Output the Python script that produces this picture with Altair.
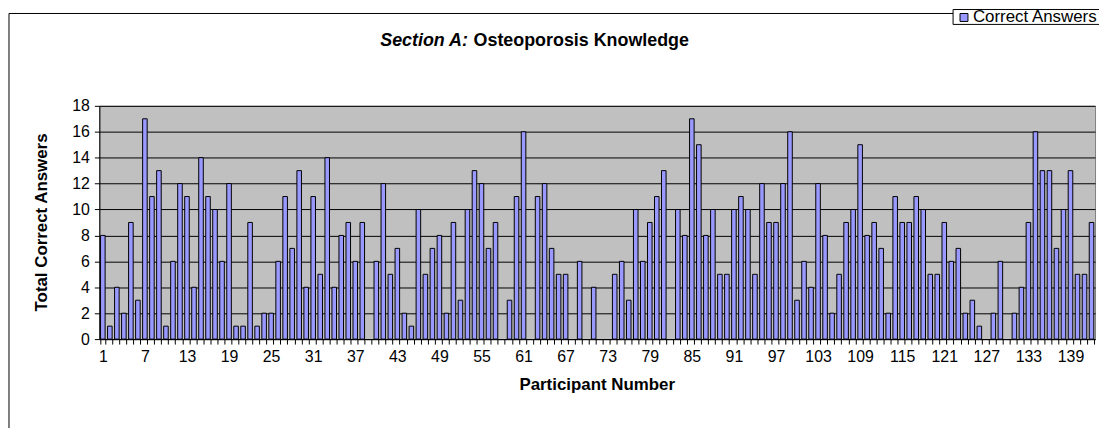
import altair as alt
import pandas as pd

participants = list(range(1, 143))
correct = [
    8, 1, 4, 2, 9, 3, 17, 11, 13, 1, 6, 12, 11, 4, 14, 11, 10, 6, 12, 1, 1, 9, 1, 2, 2, 6,
    11, 7, 13, 4, 11, 5, 14, 4, 8, 9, 6, 9, 0, 6, 12, 5, 7, 2, 1, 10, 5, 7, 8, 2, 9, 3, 10, 13,
    12, 7, 9, 0, 3, 11, 16, 0, 11, 12, 7, 5, 5, 0, 6, 0, 4, 0, 0, 5, 6, 3, 10, 6, 9, 11, 13, 0,
    10, 8, 17, 15, 8, 10, 5, 5, 10, 11, 10, 5, 12, 9, 9, 12, 16, 3, 6, 4, 12, 8, 2, 5, 9, 10, 15, 8, 9,
    7, 2, 11, 9, 9, 11, 10, 5, 5, 9, 6, 7, 2, 3, 1, 0, 2, 6, 0, 2, 4, 9, 16, 13, 13, 7, 10, 13, 5, 5, 9,
]
y_ticks = list(range(0, 19, 2))
title_part1 = "Section A:"
title_part2 = "Osteoporosis Knowledge"
x_title = "Participant Number"
y_title = "Total Correct Answers"
legend_label = "Correct Answers"

FONT = "Liberation Sans"
W, H = 1003, 235

df = pd.DataFrame({"Participant": participants, "Correct": correct})
bars_df = df[df["Correct"] > 0]
one = pd.DataFrame({"k": [0]})

xscale = alt.Scale(domain=participants, paddingInner=0.35, paddingOuter=0.175)
yscale = alt.Scale(domain=[0, 18], nice=False)

frame = alt.Chart(one).mark_rect(fillOpacity=0, stroke="black", strokeWidth=1).encode(
    x=alt.value(-91), x2=alt.value(1020), y=alt.value(-93), y2=alt.value(345)
)

bars = alt.Chart(bars_df).mark_bar(fill="#9999FF", stroke="black", strokeWidth=1).encode(
    x=alt.X(
        "Participant:O",
        scale=xscale,
        axis=alt.Axis(
            title=None,
            labelExpr="(datum.value - 1) % 6 == 0 ? datum.label : ''",
            labelOverlap=False,
            labelAngle=0,
            labelFont=FONT,
            labelFontSize=16,
            labelColor="black",
            labelPadding=5,
            tickBand="extent",
            tickSize=5,
            tickColor="black",
            domainColor="black",
        ),
    ),
    y=alt.Y(
        "Correct:Q",
        scale=yscale,
        axis=alt.Axis(
            title=None,
            values=y_ticks,
            grid=True,
            gridColor="black",
            gridWidth=1,
            gridOpacity=1,
            tickSize=5,
            tickColor="black",
            domainColor="black",
            labelFont=FONT,
            labelFontSize=16,
            labelColor="black",
            labelPadding=5,
        ),
    ),
)

t1 = alt.Chart(one).mark_text(
    text=title_part1, font=FONT, fontSize=18, fontWeight="bold", fontStyle="italic",
    align="left", baseline="middle", color="black",
).encode(x=alt.value(283), y=alt.value(-65))

t2 = alt.Chart(one).mark_text(
    text=title_part2, font=FONT, fontSize=18, fontWeight="bold",
    align="left", baseline="middle", color="black",
).encode(x=alt.value(377), y=alt.value(-65))

xt = alt.Chart(one).mark_text(
    text=x_title, font=FONT, fontSize=17, fontWeight="bold",
    align="center", baseline="middle", color="black",
).encode(x=alt.value(W / 2), y=alt.value(281))

yt = alt.Chart(one).mark_text(
    text=y_title, font=FONT, fontSize=17, fontWeight="bold", angle=270,
    align="center", baseline="middle", color="black",
).encode(x=alt.value(-58), y=alt.value(H / 2))

leg_box = alt.Chart(one).mark_rect(fill="white", stroke="black", strokeWidth=1).encode(
    x=alt.value(860), x2=alt.value(1020), y=alt.value(-97), y2=alt.value(-82)
)
leg_sq = alt.Chart(one).mark_rect(fill="#9999FF", stroke="black", strokeWidth=1).encode(
    x=alt.value(867), x2=alt.value(875), y=alt.value(-93), y2=alt.value(-85)
)
leg_txt = alt.Chart(one).mark_text(
    text=legend_label, font=FONT, fontSize=17, align="left", baseline="middle", color="black",
).encode(x=alt.value(880), y=alt.value(-89))

chart = (
    alt.layer(frame, bars, t1, t2, xt, yt, leg_box, leg_sq, leg_txt)
    .properties(
        width=W,
        height=H,
        autosize=alt.AutoSizeParams(type="none"),
        padding={"left": 92, "top": 97, "right": 4, "bottom": 88},
        background="white",
    )
    .configure_view(fill="#C0C0C0", stroke="#808080", strokeWidth=1)
)

chart.save("out.html", embed_options={"renderer": "svg", "actions": False})
